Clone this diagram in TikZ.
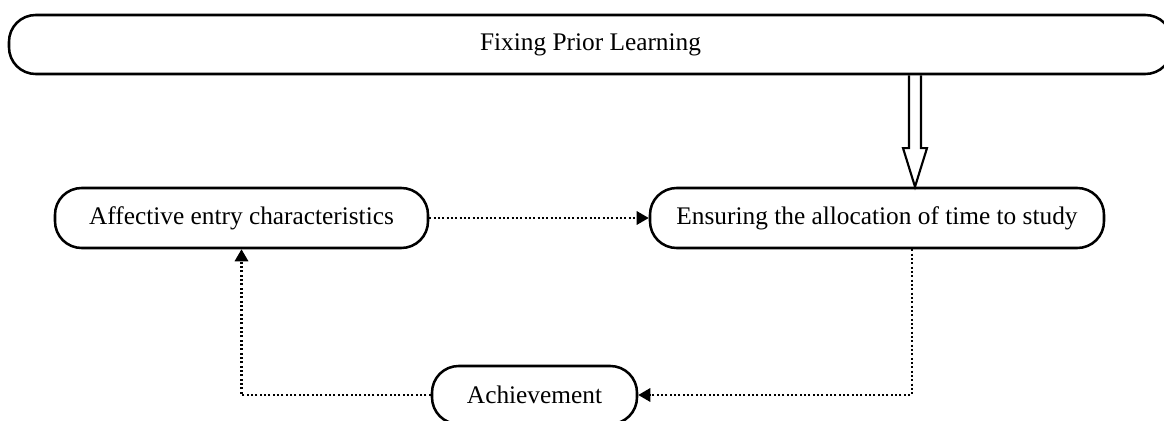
\documentclass[tikz,border=0pt]{standalone}
\usepackage{fontspec}
\setmainfont{Liberation Serif}
\usetikzlibrary{positioning,calc,arrows.meta}

\tikzset{
  box/.style={draw,line width=1.9pt,rounded corners=20pt,inner sep=0pt,
    minimum height=60*0.75pt,font=\fontsize{19}{22}\selectfont},
  dotline/.style={line width=1.6pt,dash pattern=on 1.5pt off 1.75pt,
    -{Triangle[length=9pt,width=10pt]}},
  hollow/.style={line width=1.6pt,line join=miter}
}

\begin{document}
\begin{tikzpicture}[x=0.75pt,y=-0.75pt]
  \path[use as bounding box,clip] (0,0) rectangle (1164,421);

  \node[box,minimum width=1163*0.75pt,minimum height=59*0.75pt] (fix) at (590.5,44.5) {Fixing Prior Learning};
  \node[box,minimum width=373*0.75pt] (aff) at (241.5,218) {Affective entry characteristics};
  \node[box,minimum width=454*0.75pt] (ens) at (877,218) {Ensuring the allocation of time to study};
  \node[box,minimum width=205*0.75pt,minimum height=58*0.75pt] (ach) at (534.5,395) {Achievement};

  % hollow arrow from the top bar
  \coordinate (dtip)  at ([xshift=28.5pt]ens.north);
  \coordinate (dtop)  at (dtip |- fix.south);
  \coordinate (dhead) at ([yshift=29pt]dtip);
  \draw[hollow] ([xshift=-4.5pt]dtop) -- ([xshift=-4.5pt]dhead) -- ([xshift=-9pt]dhead)
    -- (dtip) -- ([xshift=9pt]dhead) -- ([xshift=4.5pt]dhead) -- ([xshift=4.5pt]dtop);

  % dotted loop
  \draw[dotline] (aff) -- (ens);
  \draw[dotline] ([xshift=26pt]ens.south) |- (ach.east);
  \draw[dotline] (ach.west) -| (aff.south);
\end{tikzpicture}
\end{document}
